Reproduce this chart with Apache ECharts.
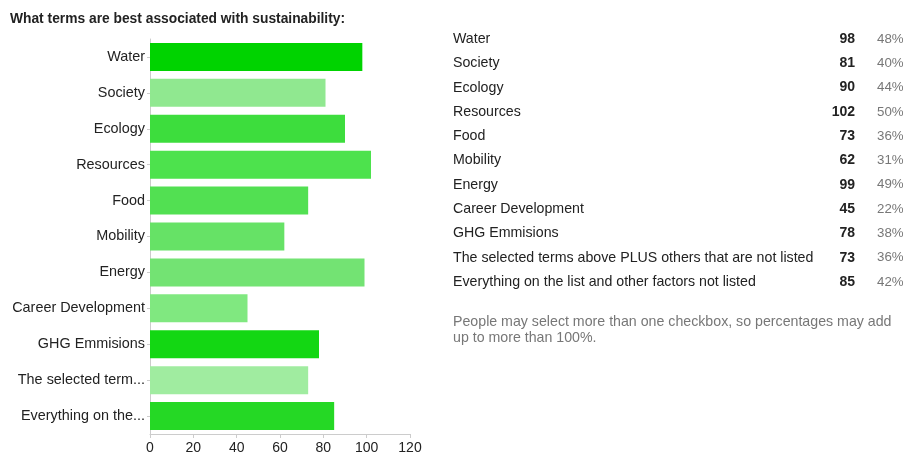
<!DOCTYPE html>
<html><head><meta charset="utf-8">
<script src="https://cdn.jsdelivr.net/npm/echarts@6/dist/echarts.min.js"></script>
<style>html,body{margin:0;padding:0;background:#fff}#c{width:903px;height:455px}</style>
</head><body><div id="c"></div>
<script>
const categories = ["Water","Society","Ecology","Resources","Food","Mobility","Energy","Career Development","GHG Emmisions","The selected terms above PLUS others that are not listed","Everything on the list and other factors not listed"];
const shortLabels = ["Water","Society","Ecology","Resources","Food","Mobility","Energy","Career Development","GHG Emmisions","The selected term...","Everything on the..."];
const counts = [98,81,90,102,73,62,99,45,78,73,85];
const percents = ["48%","40%","44%","50%","36%","31%","49%","22%","38%","36%","42%"];
const barColors = ["#00d300","#90e890","#3ddd3d","#4de24d","#52e052","#66e266","#73e373","#80e880","#13d713","#a0eca0","#25d825"];
const xTicks = [0,20,40,60,80,100,120];
const title = "What terms are best associated with sustainability:";
const footnote = ["People may select more than one checkbox, so percentages may add","up to more than 100%."];

const chart = echarts.init(document.getElementById('c'));
const F = '"Liberation Sans", Arial, sans-serif';
const graphics = [];
graphics.push({type:'text', left:10, top:12, style:{text:title, font:'bold 13.8px '+F, fill:'#222'}});
const rowTop = 32, rowH = 24.3;
categories.forEach((c,i)=>{
  const y = rowTop + i*rowH;
  graphics.push({type:'text', x:453, y:y, style:{text:c, font:'14.2px '+F, fill:'#222'}});
  graphics.push({type:'text', x:855, y:y, style:{text:String(counts[i]), font:'bold 14px '+F, fill:'#222', textAlign:'right'}});
  graphics.push({type:'text', x:877, y:y+0.5, style:{text:percents[i], font:'13.3px '+F, fill:'#777'}});
});
footnote.forEach((t,i)=>{
  graphics.push({type:'text', x:453, y:315+i*16.5, style:{text:t, font:'14.2px '+F, fill:'#777'}});
});

chart.setOption({
  animation:false,
  textStyle:{fontFamily:F},
  grid:{left:150, top:39, width:260, height:395, containLabel:false},
  xAxis:{type:'value', min:0, max:120, interval:20,
    axisLine:{show:true, lineStyle:{color:'#ccc'}},
    axisTick:{show:true, length:4, lineStyle:{color:'#ccc'}},
    axisLabel:{color:'#222', fontSize:14, margin:7},
    splitLine:{show:false}},
  yAxis:{type:'category', inverse:true, data:shortLabels,
    axisLine:{show:true, lineStyle:{color:'#ccc'}},
    axisTick:{show:true, alignWithLabel:true, length:3, lineStyle:{color:'#ccc'}},
    axisLabel:{color:'#222', fontSize:14.4, margin:5}},
  series:[{type:'bar', barCategoryGap:'22%',
    data:counts.map((v,i)=>({value:v, itemStyle:{color:barColors[i]}}))}],
  graphic:graphics
});
</script></body></html>
